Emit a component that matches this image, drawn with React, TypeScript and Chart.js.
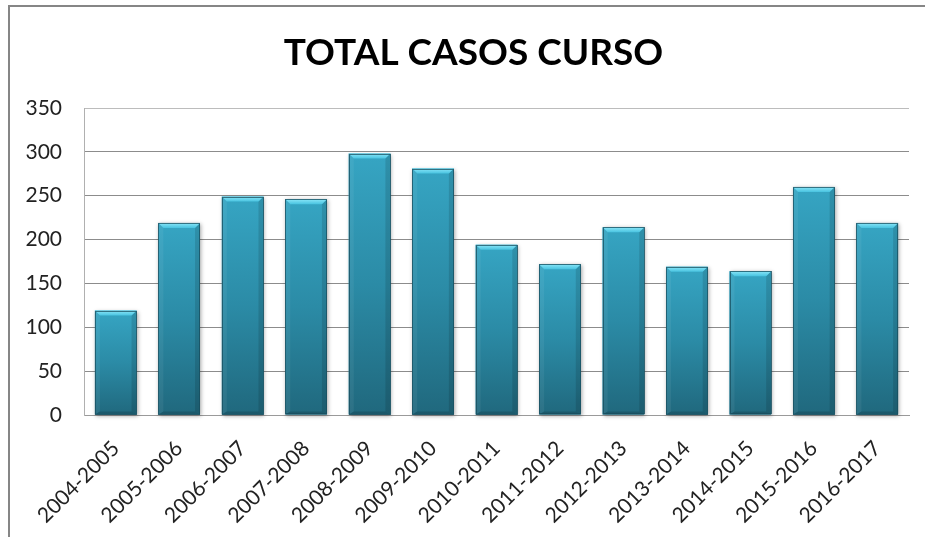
import React, { useEffect, useRef } from 'react';
import { Chart, registerables } from 'chart.js';

Chart.register(...registerables);

const chartTitle = 'TOTAL CASOS CURSO';
const categories = [
  '2004-2005', '2005-2006', '2006-2007', '2007-2008', '2008-2009', '2009-2010', '2010-2011',
  '2011-2012', '2012-2013', '2013-2014', '2014-2015', '2015-2016', '2016-2017',
];
const casos = [119, 219, 249, 246, 298, 281, 194, 172, 214, 169, 164, 260, 219];
const yMin = 0;
const yMax = 350;
const yStep = 50;

const W = 925;
const H = 537;

const framePlugin = {
  id: 'frame',
  beforeDraw(chart: any) {
    const ctx = chart.ctx;
    ctx.save();
    ctx.fillStyle = '#ffffff';
    ctx.fillRect(0, 0, chart.width, chart.height);
    ctx.strokeStyle = '#868686';
    ctx.lineWidth = 2;
    ctx.beginPath();
    ctx.moveTo(9, chart.height);
    ctx.lineTo(9, 6);
    ctx.lineTo(chart.width, 6);
    ctx.stroke();
    ctx.restore();
  },
};

const bevelPlugin = {
  id: 'bevel',
  beforeDatasetsDraw(chart: any) {
    const ctx = chart.ctx;
    const meta = chart.getDatasetMeta(0);
    ctx.save();
    meta.data.forEach((el: any) => {
      const x0 = el.x - el.width / 2;
      ctx.shadowColor = 'rgba(0,0,0,0.35)';
      ctx.shadowBlur = 4;
      ctx.shadowOffsetX = 1;
      ctx.shadowOffsetY = 1;
      ctx.fillStyle = '#2a8aa5';
      ctx.fillRect(x0, el.y, el.width, el.base - el.y);
    });
    ctx.restore();
  },
  afterDatasetsDraw(chart: any) {
    const ctx = chart.ctx;
    const meta = chart.getDatasetMeta(0);
    meta.data.forEach((el: any) => {
      const w = el.width;
      const x0 = el.x - w / 2;
      const x1 = el.x + w / 2;
      const top = el.y;
      const bot = el.base;
      const b = 5;
      ctx.save();
      ctx.fillStyle = 'rgba(255,255,255,0.06)';
      ctx.beginPath();
      ctx.moveTo(x0, top);
      ctx.lineTo(x0 + b, top + b);
      ctx.lineTo(x0 + b, bot - 3);
      ctx.lineTo(x0, bot);
      ctx.closePath();
      ctx.fill();
      ctx.fillStyle = 'rgba(0,0,0,0.12)';
      ctx.beginPath();
      ctx.moveTo(x1, top);
      ctx.lineTo(x1 - b, top + b);
      ctx.lineTo(x1 - b, bot - 3);
      ctx.lineTo(x1, bot);
      ctx.closePath();
      ctx.fill();
      ctx.fillStyle = 'rgba(0,0,0,0.15)';
      ctx.beginPath();
      ctx.moveTo(x0, bot);
      ctx.lineTo(x0 + b, bot - 3);
      ctx.lineTo(x1 - b, bot - 3);
      ctx.lineTo(x1, bot);
      ctx.closePath();
      ctx.fill();
      const g = ctx.createLinearGradient(0, top, 0, top + b);
      g.addColorStop(0, '#8ae6f8');
      g.addColorStop(1, '#48c3e0');
      ctx.fillStyle = g;
      ctx.beginPath();
      ctx.moveTo(x0, top);
      ctx.lineTo(x1, top);
      ctx.lineTo(x1 - b, top + b);
      ctx.lineTo(x0 + b, top + b);
      ctx.closePath();
      ctx.fill();
      ctx.strokeStyle = 'rgba(24,78,94,0.75)';
      ctx.lineWidth = 1;
      ctx.strokeRect(Math.round(x0) + 0.5, Math.round(top) + 0.5, Math.round(w) - 1, Math.round(bot - top) - 1);
      ctx.restore();
    });
  },
};

export default function App() {
  const ref = useRef<HTMLCanvasElement | null>(null);

  useEffect(() => {
    if (!ref.current) return;
    document.documentElement.style.overflow = 'hidden';
    document.body.style.overflow = 'hidden';
    const chart = new Chart(ref.current, {
      type: 'bar',
      data: {
        labels: categories,
        datasets: [
          {
            label: chartTitle,
            data: casos,
            barPercentage: 0.8,
            categoryPercentage: 0.82,
            borderWidth: 0,
            backgroundColor: (c: any) => {
              const chart = c.chart;
              const area = chart.chartArea;
              if (!area || c.type !== 'data' || !chart.scales.y) return '#2b8ba6';
              const yTop = chart.scales.y.getPixelForValue(c.raw);
              const g = chart.ctx.createLinearGradient(0, yTop, 0, area.bottom);
              g.addColorStop(0, '#36a5c3');
              g.addColorStop(0.5, '#2b8ba6');
              g.addColorStop(1, '#20687d');
              return g;
            },
          },
        ],
      },
      options: {
        animation: false,
        responsive: false,
        maintainAspectRatio: false,
        layout: { padding: { left: 22, right: 0, top: 0, bottom: 0 } },
        plugins: {
          legend: { display: false },
          tooltip: { enabled: false },
          title: {
            display: true,
            text: chartTitle,
            color: '#000000',
            font: { family: 'Lato', size: 37, weight: 'bold', lineHeight: 1.2 },
            padding: { top: 31, bottom: 32.6 },
          },
        },
        scales: {
          x: {
            grid: { display: false, drawTicks: false },
            border: { display: true, color: '#9a9a9a', width: 1 },
            ticks: {
              color: '#222222',
              font: { family: 'Lato', size: 21 },
              minRotation: 45,
              maxRotation: 45,
              padding: 21,
              autoSkip: false,
            },
            afterFit: (s: any) => {
              s.height = 122;
            },
          },
          y: {
            min: yMin,
            max: yMax,
            grid: {
              drawTicks: false,
              color: (c: any) => (c.tick && c.tick.value === yMax ? '#bcbcbc' : '#8c8c8c'),
              lineWidth: 1,
            },
            border: { display: true, color: '#b0b0b0', width: 1 },
            ticks: {
              stepSize: yStep,
              color: '#222222',
              font: { family: 'Lato', size: 21 },
              padding: 22,
            },
            afterFit: (s: any) => {
              s.width = 62;
            },
          },
          yRight: {
            position: 'right',
            display: true,
            min: yMin,
            max: yMax,
            grid: { display: false, drawTicks: false },
            border: { display: false },
            ticks: { display: false },
            afterFit: (s: any) => {
              s.width = 16;
            },
          },
        },
      },
      plugins: [framePlugin, bevelPlugin],
    });
    return () => chart.destroy();
  }, []);

  return (
    <div style={{ position: 'fixed', left: 0, top: 0, width: W, height: H, background: '#fff' }}>
      <canvas ref={ref} width={W} height={H} style={{ width: W, height: H, display: 'block' }} />
    </div>
  );
}
